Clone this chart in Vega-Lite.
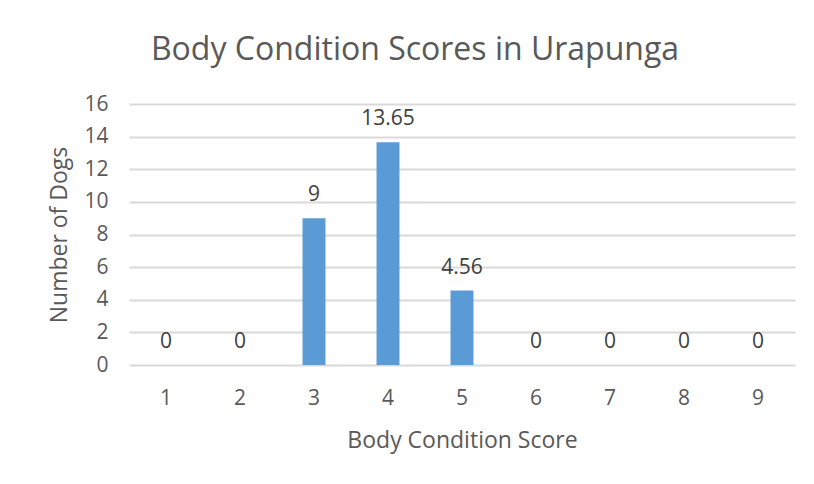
{
  "$schema": "https://vega.github.io/schema/vega-lite/v6.json",
  "width": 666,
  "height": 261,
  "autosize": {"type": "none"},
  "padding": {"left": 129, "top": 104, "right": 19, "bottom": 119},
  "background": "white",
  "title": {
    "text": "Body Condition Scores in Urapunga",
    "font": "Open Sans",
    "fontSize": 32,
    "fontWeight": "normal",
    "color": "#595959",
    "anchor": "middle",
    "baseline": "alphabetic",
    "dx": -47,
    "offset": 1
  },
  "data": {
    "values": [
      {"score": "1", "dogs": 0, "label": "0"},
      {"score": "2", "dogs": 0, "label": "0"},
      {"score": "3", "dogs": 9, "label": "9"},
      {"score": "4", "dogs": 13.65, "label": "13.65"},
      {"score": "5", "dogs": 4.56, "label": "4.56"},
      {"score": "6", "dogs": 0, "label": "0"},
      {"score": "7", "dogs": 0, "label": "0"},
      {"score": "8", "dogs": 0, "label": "0"},
      {"score": "9", "dogs": 0, "label": "0"}
    ]
  },
  "encoding": {
    "x": {
      "field": "score",
      "type": "ordinal",
      "scale": {"paddingInner": 0.69, "paddingOuter": 0.345},
      "axis": {
        "title": "Body Condition Score",
        "labelAngle": 0,
        "ticks": false,
        "domain": false,
        "labelPadding": 22,
        "titlePadding": 21
      }
    },
    "y": {
      "field": "dogs",
      "type": "quantitative",
      "scale": {"domain": [0, 16]},
      "axis": {
        "title": "Number of Dogs",
        "values": [0, 2, 4, 6, 8, 10, 12, 14, 16],
        "ticks": false,
        "domain": false,
        "labelPadding": 21,
        "titlePadding": 12
      }
    }
  },
  "layer": [
    {"mark": {"type": "bar", "color": "#5b9bd5"}},
    {
      "mark": {"type": "text", "baseline": "alphabetic", "dy": -17, "fontSize": 21, "font": "Open Sans", "color": "#404040"},
      "encoding": {"text": {"field": "label"}}
    }
  ],
  "config": {
    "view": {"stroke": null},
    "axis": {
      "labelFont": "Open Sans",
      "labelFontSize": 21,
      "labelColor": "#595959",
      "titleFont": "Open Sans",
      "titleFontSize": 23,
      "titleFontWeight": "normal",
      "titleColor": "#595959",
      "grid": true,
      "gridColor": "#d9d9d9",
      "gridWidth": 2
    },
    "axisX": {"grid": false}
  }
}
